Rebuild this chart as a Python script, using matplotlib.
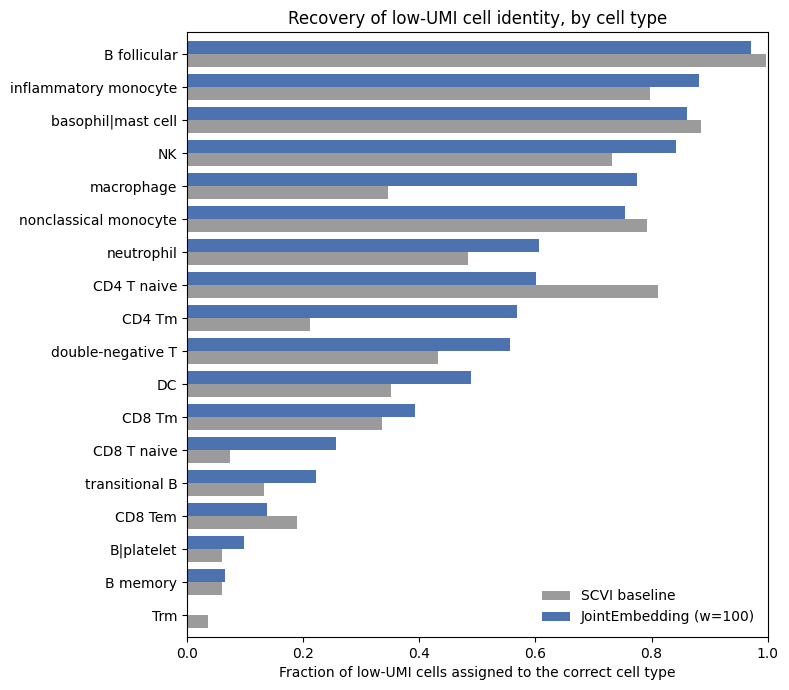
import numpy as np
import matplotlib.pyplot as plt

# ----------------------------------------------------------------------
#  Data (fraction of low-UMI cells assigned to the correct cell type)
# ----------------------------------------------------------------------

cell_types = ['B follicular', 'inflammatory monocyte', 'basophil|mast cell', 'NK',
              'macrophage', 'nonclassical monocyte', 'neutrophil', 'CD4 T naive',
              'CD4 Tm', 'double-negative T', 'DC', 'CD8 Tm', 'CD8 T naive',
              'transitional B', 'CD8 Tem', 'B|platelet', 'B memory', 'Trm']

joint = [0.971, 0.882, 0.861, 0.842, 0.775, 0.755, 0.607, 0.601, 0.568,
         0.557, 0.489, 0.393, 0.256, 0.223, 0.137, 0.099, 0.066, 0.0]

scvi = [0.997, 0.797, 0.885, 0.732, 0.347, 0.792, 0.484, 0.811, 0.211,
        0.433, 0.352, 0.335, 0.074, 0.132, 0.189, 0.061, 0.060, 0.036]

# ----------------------------------------------------------------------
#  Plot
# ----------------------------------------------------------------------

y = np.arange(len(cell_types))
h = 0.4

fig, ax = plt.subplots(figsize=(7.89, 6.9), dpi=100)
ax.barh(y + h / 2, scvi, height=h, color='#9b9b9b', label='SCVI baseline')
ax.barh(y - h / 2, joint, height=h, color='#4c72b0', label='JointEmbedding (w=100)')

ax.set_yticks(y)
ax.set_yticklabels(cell_types)
ax.set_ylim(len(cell_types) - 0.34, -0.66)
ax.set_xlim(0, 1.0)
ax.set_xlabel('Fraction of low-UMI cells assigned to the correct cell type')
ax.set_title('Recovery of low-UMI cell identity, by cell type', fontsize=12)
ax.legend(loc='lower right', frameon=False)

fig.subplots_adjust(left=0.237, right=0.973, top=0.953, bottom=0.077)
fig.savefig('out.png', dpi=100)
